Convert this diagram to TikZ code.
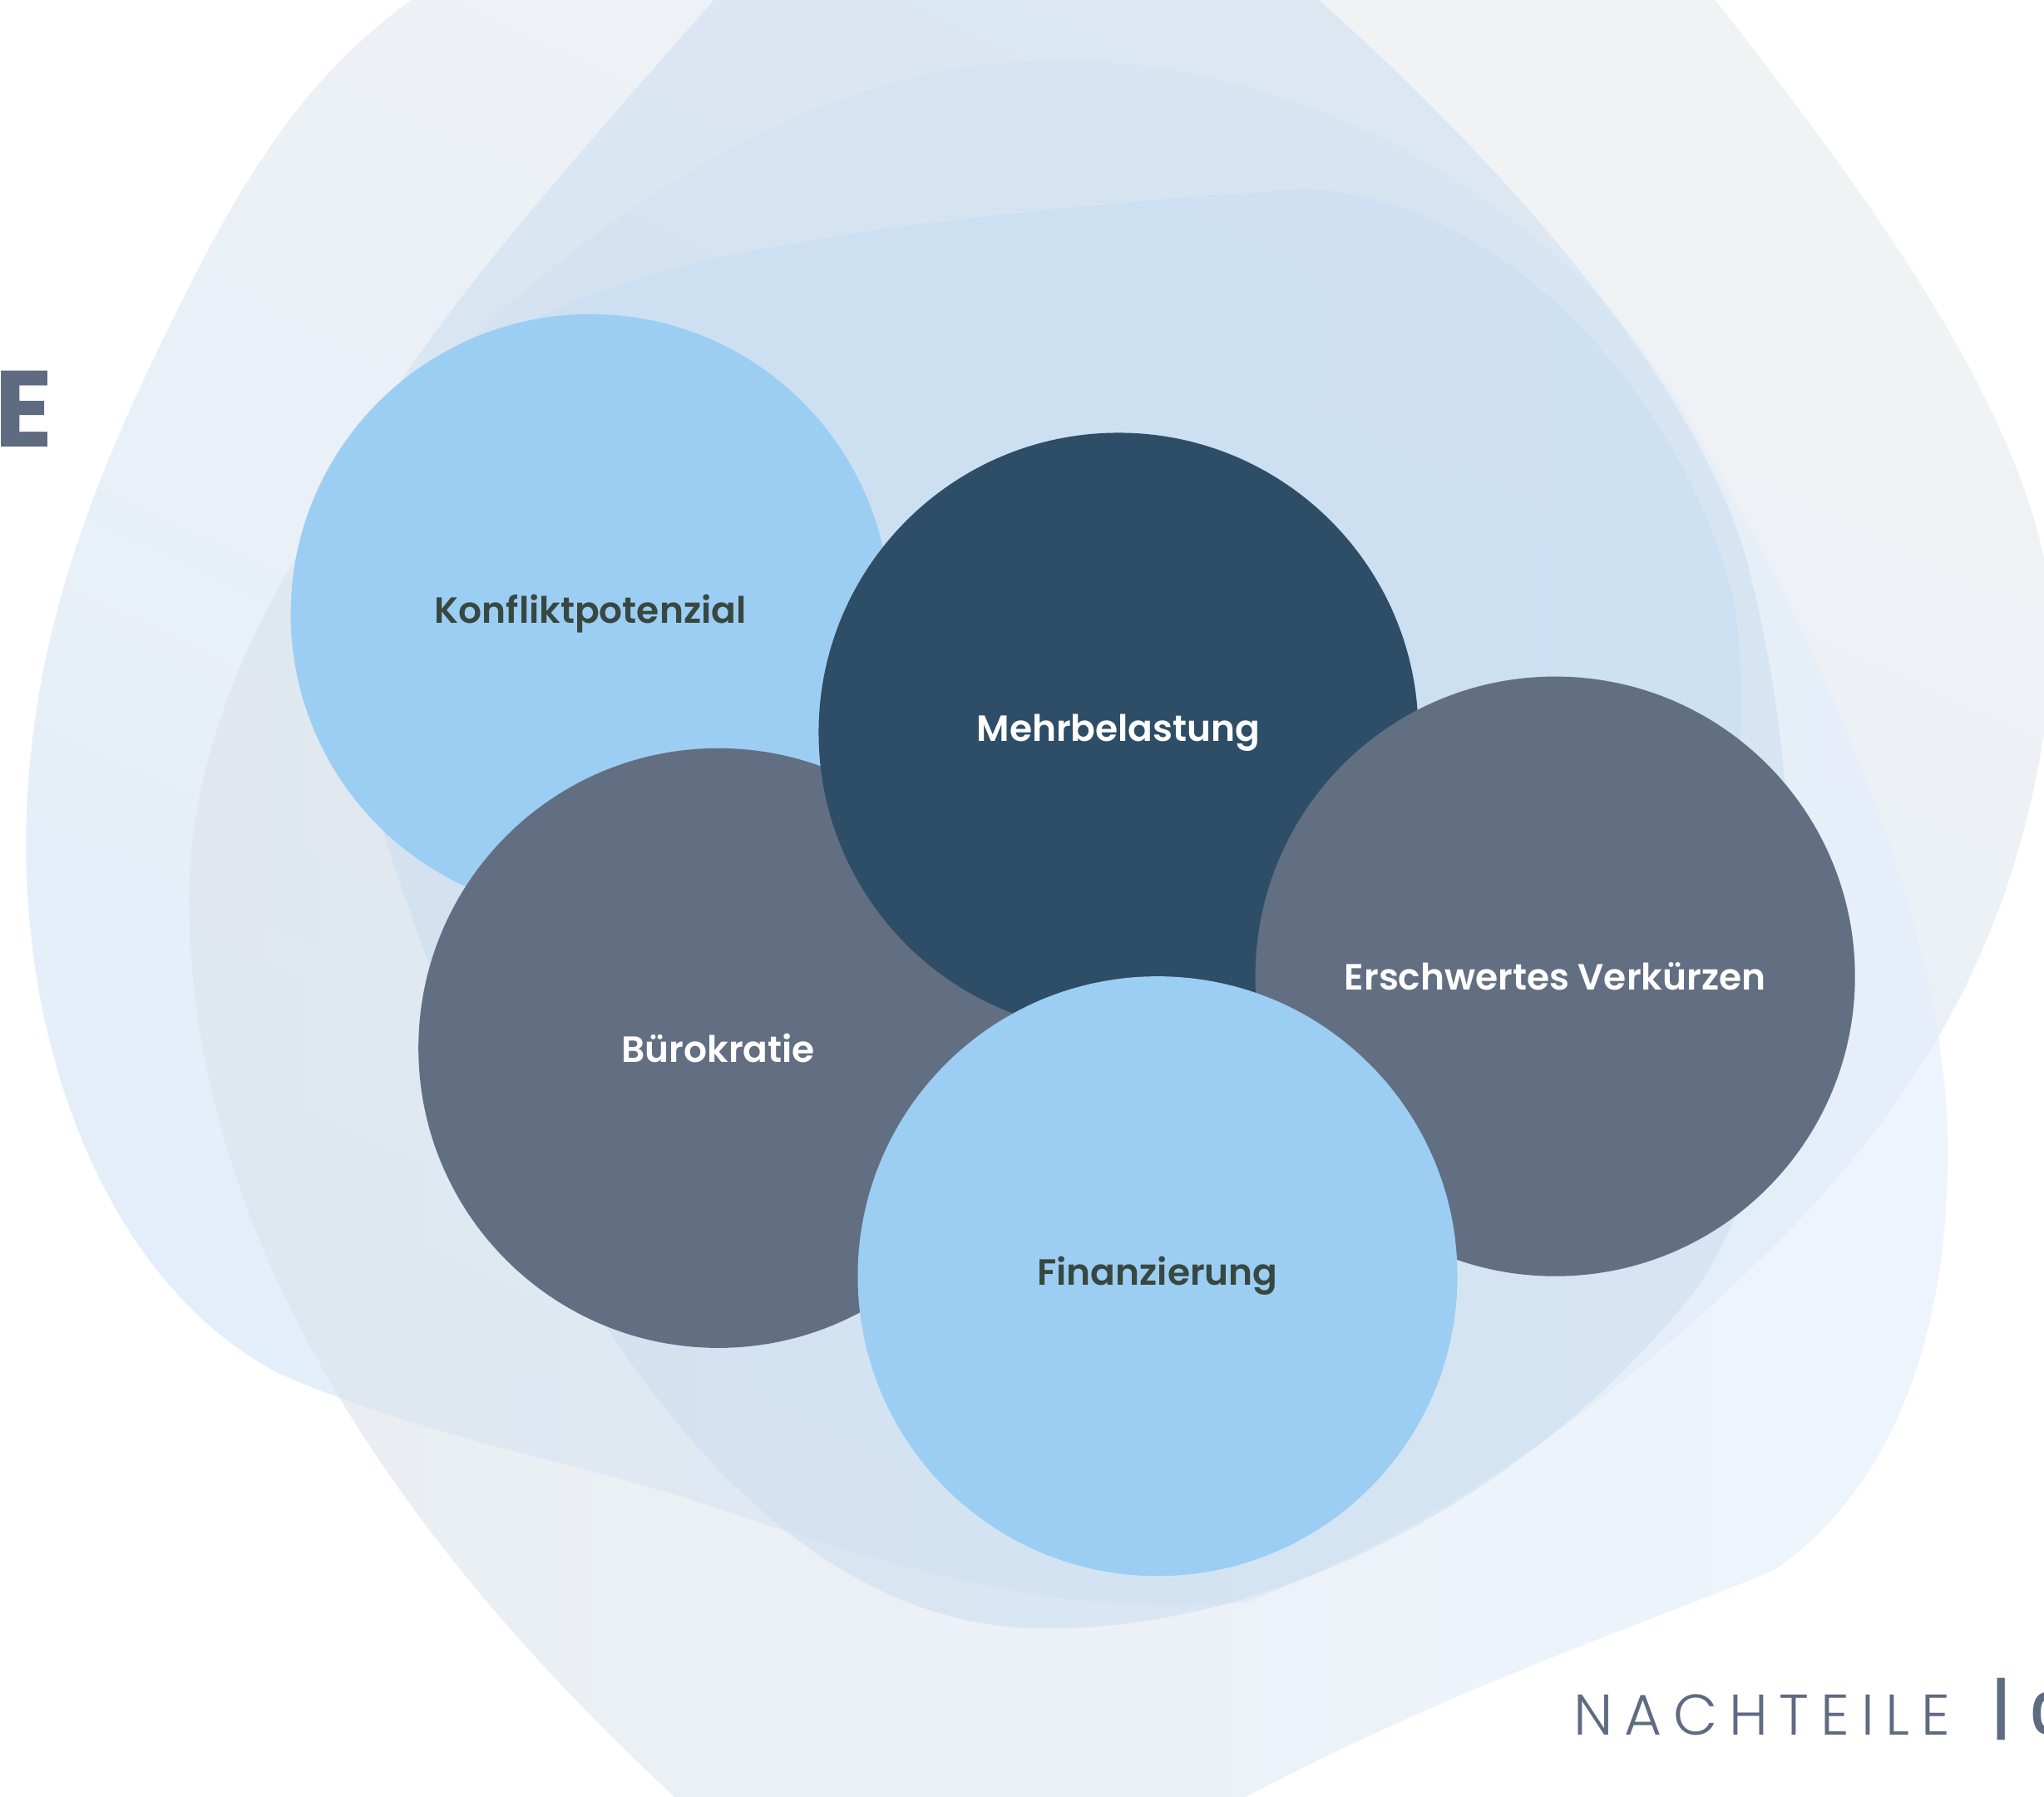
\documentclass[tikz,border=0pt]{standalone}
\usepackage{fontspec}
\setmainfont{Poppins}
\newfontfamily\popsemi{Poppins SemiBold}
\newfontfamily\popmed{Poppins Medium}
\newfontfamily\popbold{Poppins Bold}
\newfontfamily\poplight{Poppins Light}[LetterSpace=20]
\definecolor{lightcirc}{HTML}{9CCEF4}
\definecolor{darkcirc}{HTML}{2E4D66}
\definecolor{greycirc}{HTML}{626F83}
\definecolor{darktext}{HTML}{384840}
\definecolor{slate}{HTML}{5E6B81}
\definecolor{bgA1}{HTML}{F1F2F4}
\definecolor{bgA2}{HTML}{E2EEFA}
\definecolor{bgE1}{HTML}{DCE3E9}
\definecolor{bgE2}{HTML}{E3EEFC}
\definecolor{bgC}{HTML}{C9DDF0}
\definecolor{bgD}{HTML}{C4DDF3}
\tikzset{
  bubble/.style={circle, minimum size=460pt, inner sep=0pt, outer sep=0pt, font=\popsemi\fontsize{28}{32}\selectfont},
  lightbubble/.style={bubble, fill=lightcirc, text=darktext},
  darkbubble/.style={bubble, fill=darkcirc, text=white},
  greybubble/.style={bubble, fill=greycirc, text=white}
}
\begin{document}
\begin{tikzpicture}[x=1pt,y=-1pt]
\useasboundingbox (0,0) rectangle (1568,1378);
\fill[white] (0,0) rectangle (1568,1378);
% outer grey blob
\shade[top color=bgA1, bottom color=bgA2, shading angle=-25]
  (345,-20) .. controls (250,40) and (200,110) .. (140,230)
  .. controls (80,350) and (22,480) .. (20,640)
  .. controls (18,820) and (90,990) .. (215,1054)
  .. controls (320,1100) and (430,1120) .. (513,1145)
  .. controls (650,1190) and (800,1245) .. (957,1229)
  .. controls (1120,1165) and (1260,1060) .. (1380,936)
  .. controls (1480,830) and (1560,700) .. (1575,500)
  .. controls (1580,350) and (1450,170) .. (1300,-20) -- cycle;
% large blob
\shade[left color=bgE1, right color=bgE2, fill opacity=0.6]
  (818,46) .. controls (1000,50) and (1200,150) .. (1300,330)
  .. controls (1400,500) and (1500,720) .. (1494,900)
  .. controls (1490,1050) and (1440,1150) .. (1360,1205)
  .. controls (1250,1250) and (1100,1300) .. (934,1390)
  -- (530,1390)
  .. controls (300,1180) and (150,950) .. (145,700)
  .. controls (140,500) and (300,280) .. (500,150)
  .. controls (600,85) and (700,46) .. (818,46) -- cycle;
% inner blob
\fill[bgC, fill opacity=0.5]
  (565,-20) .. controls (470,90) and (330,240) .. (280,340)
  .. controls (240,430) and (270,580) .. (315,700)
  .. controls (400,950) and (560,1240) .. (790,1249)
  .. controls (1000,1255) and (1200,1120) .. (1300,990)
  .. controls (1380,880) and (1395,640) .. (1340,430)
  .. controls (1300,290) and (1150,120) .. (989,-20) -- cycle;
% core blob
\fill[bgD, fill opacity=0.45]
  (389,258) .. controls (480,195) and (700,165) .. (1000,145)
  .. controls (1150,150) and (1290,300) .. (1330,460)
  .. controls (1345,560) and (1330,650) .. (1300,700)
  -- (1000,700) -- (700,650) -- (500,600) -- (400,420) -- cycle;
% bubbles
\node[lightbubble] (konf) at (453,471) {Konfliktpotenzial};
\node[greybubble] (buero) at (551,804) {Bürokratie};
\node[darkbubble] (mehr) at (858,562) {Mehrbelastung};
\node[greybubble] (ersch) at (1193,749) {Erschwertes Verkürzen};
\node[lightbubble] (fin) at (888,979) {Finanzierung};
% title fragments
\node[anchor=base east, inner sep=0pt, text=slate, font=\popbold\fontsize{83}{90}\selectfont] (titleE) at (41,343) {E};
\node[anchor=base west, inner sep=0pt, text=slate, font=\poplight\fontsize{44}{50}\selectfont] (nacht) at (1207,1331) {NACHTEILE};
\node[anchor=center, inner sep=0pt, text=slate, font=\popmed\fontsize{52}{56}\selectfont] (bar) at (1535,1311) {|};
\node[anchor=base west, inner sep=0pt, text=slate, font=\popsemi\fontsize{44}{50}\selectfont] (num) at (1557,1331) {0};
\end{tikzpicture}
\end{document}
